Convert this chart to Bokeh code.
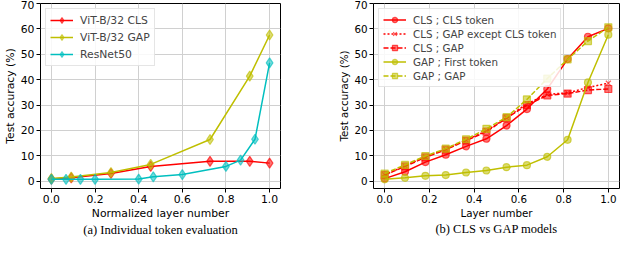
from bokeh.plotting import figure
from bokeh.layouts import row
from bokeh.models import (Legend, LegendItem, LinearAxis, Range1d, FixedTicker,
                          PrintfTickFormatter)
from bokeh.embed import file_html
from bokeh.resources import INLINE

# ---------------- data ----------------
# panel (a)
vit_x = [0.0, 0.091, 0.273, 0.455, 0.727, 0.909, 1.0]
vit_cls = [0.8, 1.3, 3.0, 5.8, 7.8, 7.8, 7.1]
vit_gap = [1.0, 1.6, 3.4, 6.6, 16.4, 41.4, 57.6]
resnet_x = [0.0, 0.067, 0.133, 0.2, 0.4, 0.467, 0.6, 0.8, 0.867, 0.933, 1.0]
resnet = [0.7, 0.7, 0.7, 0.7, 0.8, 1.7, 2.6, 5.8, 8.3, 16.5, 46.6]

# panel (b)
layer_x = [0.0, 0.091, 0.182, 0.273, 0.364, 0.455, 0.545, 0.636, 0.727, 0.818, 0.909, 1.0]
cls_cls = [1.0, 3.7, 7.5, 10.4, 13.7, 16.7, 21.9, 28.4, 36.3, 48.1, 56.9, 60.2]
cls_gap_except = [2.5, 6.0, 9.6, 12.6, 16.2, 19.8, 25.0, 30.5, 34.2, 34.8, 36.9, 38.6]
cls_gap = [2.4, 5.8, 9.4, 12.4, 16.0, 19.5, 24.8, 30.0, 33.8, 34.5, 35.9, 36.3]
gap_first = [0.7, 1.3, 2.1, 2.4, 3.4, 4.2, 5.5, 6.3, 9.6, 16.3, 38.9, 57.7]
gap_gap = [3.0, 6.4, 9.9, 12.8, 16.5, 20.6, 25.2, 32.2, 40.4, 48.0, 55.2, 60.6]

x_ticks = [0.0, 0.2, 0.4, 0.6, 0.8, 1.0]
y_ticks = [0, 10, 20, 30, 40, 50, 60, 70]

RED = "#ff0000"
YEL = "#bfbf00"
CYA = "#00bfbf"
FONT = "DejaVu Sans"


def make_fig(min_left, min_right, xlabel, caption, fs):
    p = figure(width=312, height=239, output_backend="svg", toolbar_location=None,
               x_range=Range1d(-0.05, 1.05), y_range=Range1d(-2.9, 70),
               min_border_left=min_left, min_border_right=min_right,
               min_border_top=3, min_border_bottom=44)
    p.outline_line_color = "black"
    p.outline_line_width = 1
    p.background_fill_color = "white"
    p.border_fill_color = "white"
    p.grid.grid_line_color = "#d0d0d0"
    p.grid.grid_line_width = 1
    p.xaxis.ticker = FixedTicker(ticks=x_ticks)
    p.yaxis.ticker = FixedTicker(ticks=y_ticks)
    p.xaxis.formatter = PrintfTickFormatter(format="%.1f")
    for ax in (p.xaxis[0], p.yaxis[0]):
        ax.axis_line_color = None
        ax.major_tick_in = 0
        ax.major_tick_out = 4
        ax.minor_tick_line_color = None
        ax.major_label_text_font = FONT
        ax.major_label_text_font_size = fs
        ax.major_label_text_color = "black"
        ax.major_label_standoff = 2
        ax.axis_label_text_font = FONT
        ax.axis_label_text_font_size = fs
        ax.axis_label_text_font_style = "normal"
        ax.axis_label_text_color = "black"
        ax.axis_label_standoff = 1
    p.xaxis.axis_label = xlabel
    p.yaxis.axis_label = "Test accuracy (%)"
    # caption below the x axis, drawn as the label of a bare extra axis
    cap = LinearAxis(ticker=FixedTicker(ticks=[]), axis_label=caption,
                     axis_line_color=None, major_tick_line_color=None,
                     minor_tick_line_color=None, major_tick_out=0, major_tick_in=0,
                     major_label_standoff=0, axis_label_standoff=0,
                     major_label_text_font_size="1px",
                     axis_label_text_font="Liberation Serif",
                     axis_label_text_font_size="12.5px",
                     axis_label_text_font_style="normal",
                     axis_label_text_color="black")
    p.add_layout(cap, "below")
    return p


def series(p, x, y, color, marker, dash="solid", size=7):
    l = p.line(x, y, line_color=color, line_width=1.5, line_dash=dash)
    m = p.scatter(x, y, marker=marker, size=size, fill_color=color, line_color=color,
                  fill_alpha=0.55, line_alpha=0.65, line_width=1.2)
    return [l, m]


def style_legend(leg, gh, spacing, fs):
    leg.location = "top_left"
    leg.margin = 5
    leg.padding = 4
    leg.spacing = spacing
    leg.glyph_width = 23
    leg.glyph_height = gh
    leg.label_height = gh
    leg.label_standoff = 7
    leg.label_text_font = FONT
    leg.label_text_font_size = fs
    leg.border_line_color = "#cccccc"
    leg.border_line_width = 1
    leg.background_fill_alpha = 0.85


# ---------------- panel (a) ----------------
p1 = make_fig(33, 32, "Normalized layer number", "(a) Individual token evaluation", "10.8px")
r1 = series(p1, vit_x, vit_cls, RED, "diamond", size=10)
r2 = series(p1, vit_x, vit_gap, YEL, "diamond", size=10)
r3 = series(p1, resnet_x, resnet, CYA, "diamond", size=10)
leg1 = Legend(items=[LegendItem(label="ViT-B/32 CLS", renderers=r1),
                     LegendItem(label="ViT-B/32 GAP", renderers=r2),
                     LegendItem(label="ResNet50", renderers=r3)])
style_legend(leg1, 14, 3, "10.8px")
p1.add_layout(leg1)

# ---------------- panel (b) ----------------
p2 = make_fig(61, 5, "Layer number", "(b) CLS vs GAP models", "10.3px")
s1 = series(p2, layer_x, cls_cls, RED, "circle")
s2 = series(p2, layer_x, cls_gap_except, RED, "x", dash="2 2")
s3 = series(p2, layer_x, cls_gap, RED, "square", dash="5 2")
s4 = series(p2, layer_x, gap_first, YEL, "circle")
s5 = series(p2, layer_x, gap_gap, YEL, "square", dash="5 2")
leg2 = Legend(items=[LegendItem(label="CLS ; CLS token", renderers=s1),
                     LegendItem(label="CLS ; GAP except CLS token", renderers=s2),
                     LegendItem(label="CLS ; GAP", renderers=s3),
                     LegendItem(label="GAP ; First token", renderers=s4),
                     LegendItem(label="GAP ; GAP", renderers=s5)])
style_legend(leg2, 13, 1, "10.3px")
p2.add_layout(leg2)

layout = row(p1, p2)
open("out.html", "w").write(file_html(layout, INLINE))
